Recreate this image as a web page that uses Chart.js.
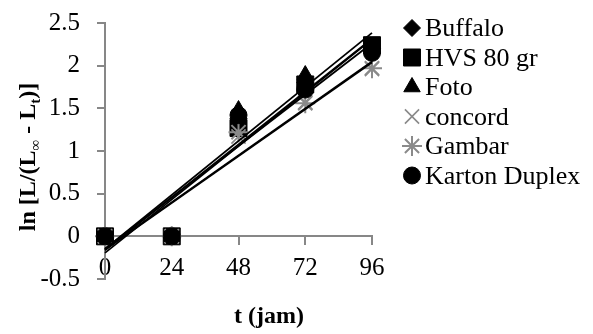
<!DOCTYPE html>
<html>
<head>
<meta charset="utf-8">
<script src="https://cdn.jsdelivr.net/npm/chart.js@4/dist/chart.umd.min.js"></script>
<style>
  html, body { margin: 0; padding: 0; background: #ffffff; }
  #wrap { width: 593px; height: 334px; }
</style>
</head>
<body>
<div id="wrap"><canvas id="c" width="593" height="334"></canvas></div>
<script>
// Sampling times (hours)
const times = [0, 24, 48, 72, 96];

// ln[L/(L∞ - Lt)] per paper type
const buffalo = [0, 0, 1.38, 1.80, 2.20];
const hvs     = [0, 0, 1.27, 1.78, 2.24];
const foto    = [0, 0, 1.48, 1.89, 2.22];
const concord = [0, 0, 1.17, 1.57, 1.96];
const gambar  = [0, 0, 1.22, 1.56, 1.97];
const karton  = [0, 0, 1.42, 1.72, 2.15];

const seriesNames = ['Buffalo', 'HVS 80 gr', 'Foto', 'concord', 'Gambar', 'Karton Duplex'];
const seriesValues = [buffalo, hvs, foto, concord, gambar, karton];

// Axis ticks
const yTickValues = [-0.5, 0, 0.5, 1, 1.5, 2, 2.5];
const yTickLabels = ['-0.5', '0', '0.5', '1', '1.5', '2', '2.5'];
const xTickValues = times;
const xTickLabels = ['0', '24', '48', '72', '96'];

const AXIS = '#878787';
const GREY = '#8a8a8a';
const FONT = '"Liberation Serif", "Times New Roman", serif';

// Marker look for each series (same order as seriesNames)
const markerStyles = [
  { pointStyle: 'rectRot',  radius: 8.5, color: '#000000', lineWidth: 1 },
  { pointStyle: 'rect',     radius: 12,  color: '#000000', lineWidth: 1 },
  { pointStyle: 'triangle', radius: 9.5, color: '#000000', lineWidth: 1 },
  { pointStyle: 'crossRot', radius: 10,  color: GREY,      lineWidth: 1.6 },
  { pointStyle: 'star',     radius: 10,  color: GREY,      lineWidth: 2 },
  { pointStyle: 'circle',   radius: 8.5, color: '#000000', lineWidth: 1 }
];

// Least-squares straight line through one series
function linearFit(xs, ys) {
  const n = xs.length;
  const mx = xs.reduce((a, b) => a + b, 0) / n;
  const my = ys.reduce((a, b) => a + b, 0) / n;
  let sxy = 0, sxx = 0;
  for (let i = 0; i < n; i++) {
    sxy += (xs[i] - mx) * (ys[i] - my);
    sxx += (xs[i] - mx) * (xs[i] - mx);
  }
  const slope = sxy / sxx;
  return { slope, intercept: my - slope * mx };
}

const datasets = [];
const nSeries = seriesNames.length;

// Trend lines, drawn on top
seriesValues.forEach((vals, i) => {
  const fit = linearFit(times, vals);
  const x0 = times[0], x1 = times[times.length - 1];
  datasets.push({
    label: seriesNames[i] + ' trend',
    data: [{ x: x0, y: fit.intercept + fit.slope * x0 }, { x: x1, y: fit.intercept + fit.slope * x1 }],
    showLine: true,
    borderColor: '#000000',
    borderWidth: 1.8,
    pointRadius: 0,
    pointHoverRadius: 0,
    fill: false,
    clip: false,
    order: 0
  });
});

// Markers: later series sit above earlier ones
seriesValues.forEach((vals, i) => {
  const m = markerStyles[i];
  datasets.push({
    label: seriesNames[i],
    data: times.map((t, k) => ({ x: t, y: vals[k] })),
    showLine: false,
    pointStyle: m.pointStyle,
    pointRadius: m.radius,
    pointHoverRadius: m.radius,
    pointBackgroundColor: m.color,
    pointBorderColor: m.color,
    pointBorderWidth: m.lineWidth,
    clip: false,
    order: nSeries - i
  });
});

function drawMarker(ctx, m, x, y) {
  ctx.save();
  ctx.fillStyle = m.color;
  ctx.strokeStyle = m.color;
  ctx.lineWidth = m.lineWidth;
  Chart.helpers.drawPoint(ctx, { pointStyle: m.pointStyle, radius: m.radius, borderWidth: m.lineWidth, rotation: 0 }, x, y);
  ctx.restore();
}

// Legend and axis titles
const overlay = {
  id: 'overlay',
  afterDraw(chart) {
    const ctx = chart.ctx;
    ctx.save();

    // legend
    ctx.font = '26px ' + FONT;
    ctx.textAlign = 'left';
    ctx.textBaseline = 'alphabetic';
    seriesNames.forEach((name, i) => {
      const base = 36 + 29.5 * i;
      drawMarker(ctx, markerStyles[i], 412, base - 8);
      ctx.fillStyle = '#000000';
      ctx.fillText(name, 425, base);
    });

    // x title
    ctx.font = 'bold 24px ' + FONT;
    ctx.textAlign = 'center';
    ctx.fillStyle = '#000000';
    ctx.fillText('t (jam)', 269, 323);

    // y title, rotated, with subscripts
    const parts = [
      { t: 'ln [L/(L', sub: false },
      { t: '∞', sub: true },
      { t: ' - L', sub: false },
      { t: 't', sub: true },
      { t: ')]', sub: false }
    ];
    const bigFont = 'bold 24px ' + FONT;
    const smallFont = 'bold 15px ' + FONT;
    let total = 0;
    parts.forEach(p => { ctx.font = p.sub ? smallFont : bigFont; p.w = ctx.measureText(p.t).width; total += p.w; });
    ctx.translate(35, 157);
    ctx.rotate(-Math.PI / 2);
    ctx.textAlign = 'left';
    let u = -total / 2;
    parts.forEach(p => {
      ctx.font = p.sub ? smallFont : bigFont;
      ctx.fillText(p.t, u, p.sub ? 5 : 0);
      u += p.w;
    });
    ctx.restore();
  }
};

function noScalePadding(scale) {
  scale.paddingTop = 0;
  scale.paddingBottom = 0;
  scale.paddingLeft = 0;
  scale.paddingRight = 0;
}

new Chart(document.getElementById('c'), {
  type: 'scatter',
  data: { datasets },
  options: {
    responsive: false,
    animation: false,
    devicePixelRatio: 1,
    layout: { padding: { left: 0, top: 23, right: 221, bottom: 55 } },
    plugins: { legend: { display: false }, tooltip: { enabled: false } },
    scales: {
      x: {
        type: 'linear',
        position: { y: 0 },
        min: 0,
        max: 96,
        afterBuildTicks(scale) { scale.ticks = xTickValues.map(v => ({ value: v })); },
        afterFit: noScalePadding,
        ticks: {
          color: '#000000', font: { family: FONT, size: 25 }, padding: 9, maxRotation: 0,
          callback: (v) => xTickLabels[xTickValues.indexOf(v)]
        },
        grid: { drawOnChartArea: false, drawTicks: true, tickLength: 8, color: AXIS, lineWidth: 2 },
        border: { color: AXIS, width: 2 }
      },
      y: {
        type: 'linear',
        position: 'left',
        min: -0.5,
        max: 2.5,
        afterBuildTicks(scale) { scale.ticks = yTickValues.map(v => ({ value: v })); },
        afterFit(scale) { noScalePadding(scale); scale.width = 105; },
        ticks: {
          color: '#000000', font: { family: FONT, size: 25 }, padding: 17,
          callback: (v) => yTickLabels[yTickValues.indexOf(v)]
        },
        grid: { drawOnChartArea: false, drawTicks: true, tickLength: 8, color: AXIS, lineWidth: 2 },
        border: { color: AXIS, width: 2 }
      }
    }
  },
  plugins: [overlay]
});
</script>
</body>
</html>
